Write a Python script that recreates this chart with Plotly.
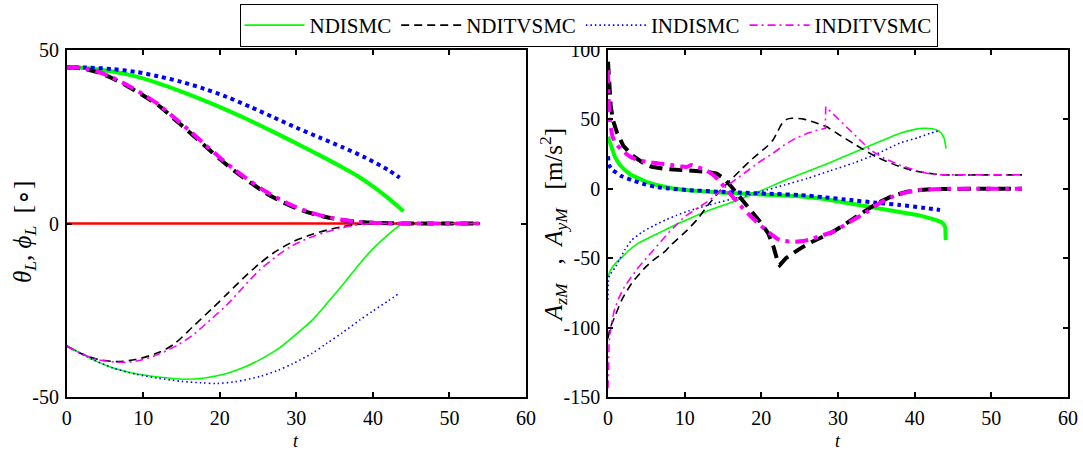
import plotly.graph_objects as go

# ---------------- data: left panel (theta_L thick, phi_L thin) ----------------
t_theta_nd = [0, 3, 6, 9, 12, 15, 18, 21, 24, 27, 30, 33, 36, 38, 40, 42, 44]
theta_nd = [45, 44.7, 43.8, 42.4, 40.4, 38.0, 35.4, 32.6, 29.6, 26.4, 23.1, 19.7, 16.2, 13.7, 10.7, 7.3, 3.5]

t_theta_ind = [0, 3, 6, 9, 12, 15, 18, 21, 24, 27, 30, 33, 36, 39, 42, 43.5]
theta_ind = [45, 44.9, 44.5, 43.7, 42.4, 40.8, 38.8, 36.4, 33.6, 30.6, 27.6, 24.8, 22.0, 19.0, 15.4, 13.2]

t_theta_tv = [0, 2, 4, 6, 8, 10, 12, 14, 16, 18, 20, 22, 24, 26, 28, 30, 32, 34, 36, 38, 40, 44, 48, 54]
theta_ndtv = [45, 44.7, 43.6, 41.8, 39.5, 36.9, 34.0, 30.2, 26.4, 22.5, 18.6, 15.0, 11.8, 8.8, 6.4, 4.4, 2.9, 1.8, 1.0, 0.5, 0.2, 0, 0, 0]
theta_indtv = [45, 44.8, 43.8, 42.0, 39.8, 37.2, 34.3, 30.6, 26.8, 22.9, 19.0, 15.4, 12.2, 9.2, 6.8, 4.7, 3.1, 1.9, 1.1, 0.5, 0.2, 0, 0, 0]

t_phi_ndtv = [0, 2, 4, 6.5, 9, 12, 14, 16.5, 19, 21, 23, 25, 27, 29.6, 32, 34, 36, 38, 40, 44, 48, 54]
phi_ndtv = [-35.3, -37.6, -39.1, -39.8, -39.2, -37.2, -34.8, -29.7, -24.5, -20.2, -15.9, -11.9, -8.5, -5.2, -3.2, -1.9, -0.9, -0.3, 0, 0, 0, 0]

t_phi_indtv = [0, 2, 4, 7, 9.5, 12.2, 14.5, 16.5, 19, 20.9, 23, 25.2, 27.5, 29.6, 32, 34, 36, 38, 40, 44, 48, 54]
phi_indtv = [-35.3, -37.6, -39.2, -40.0, -39.5, -37.5, -35.0, -32.1, -27.3, -23.5, -18.5, -13.4, -9.3, -6.2, -3.9, -2.4, -1.2, -0.4, 0, 0, 0, 0]

t_phi_nd = [0, 2, 3.5, 6, 9, 12.2, 15.2, 18, 20.9, 23, 25.2, 27.5, 29.6, 32, 34, 36, 38.3, 40, 42, 44]
phi_nd = [-35.3, -37.6, -39.3, -41.6, -43.3, -44.3, -44.9, -44.5, -43.2, -41.6, -39.3, -36.3, -32.6, -28.0, -23.0, -17.8, -11.5, -7.3, -3.2, 0.3]

t_phi_ind = [0, 2, 3.5, 6, 9, 12, 15, 17.5, 19.6, 22, 25.2, 27.5, 29.6, 32, 34, 36, 38.3, 40, 42, 43.3]
phi_ind = [-35.3, -37.6, -39.3, -41.6, -43.4, -44.6, -45.5, -45.9, -46.1, -45.6, -44.1, -42.4, -40.3, -37.5, -34.5, -31.5, -27.8, -25.2, -22.3, -20.3]

t_ref = [0, 54]
ref_zero = [0, 0]

# ---------------- data: right panel (A_zM thick, A_yM thin) ----------------
t_az_nd = [0, 0.4, 0.9, 1.5, 2.2, 3, 3.9, 5, 6.5, 8.3, 10.5, 12.7, 15, 18, 21, 25, 28, 31.6, 35, 38.1, 40.5, 42.5, 43.4, 43.8, 44.0, 44.05]
az_nd = [37.5, 30, 23, 17.5, 13.5, 10, 7.6, 5, 2.5, 0.4, -1, -2.1, -2.9, -3.5, -4, -5.3, -7.2, -10.5, -13.3, -16.5, -19, -22, -23.8, -25.5, -28, -37]

t_az_ind = [0, 0.15, 0.5, 0.9, 1.8, 3.1, 4.5, 6.1, 8, 10.4, 14.4, 18, 22, 25.1, 28, 31.6, 35, 38.1, 41, 43.3]
az_ind = [23.5, 17, 14, 12.3, 9, 6.3, 3.7, 1.5, 0.2, -0.9, -2.1, -2.9, -3.8, -4.5, -6, -8.1, -10, -11.7, -13.6, -15.3]

t_az_ndtv = [0, 0.15, 0.35, 0.65, 1.2, 2, 3.2, 4.5, 5.7, 7.5, 9.6, 12.7, 14.2, 15.2, 16.1, 17.4, 18.7, 19.8, 20.9, 21.6, 22.2, 22.4,
             23.2, 24.1, 25.1, 26.5, 27.7, 29, 30.5, 32, 33.8, 35.5, 37.2, 39, 40.7, 42.5, 44, 48, 54]
az_ndtv = [91.6, 75, 60, 49.5, 40, 31, 24, 19, 15.9, 14.3, 13.5, 12.3, 11, 7, 1.5, -7, -15.3, -23.5, -32.1, -42, -53.7, -55,
           -50, -46.3, -42.9, -38.5, -35.5, -32, -27, -21.3, -15, -9.3, -5, -2.1, -0.8, -0.2, 0, 0, 0]

t_az_indtv = [0, 0.05, 0.2, 0.6, 1.2, 1.8, 2.8, 3.9, 5.5, 7, 8.3, 9.6, 10.3, 10.9, 11.5, 12.7, 13.6, 14.4, 15.7, 17, 18.3, 19.6,
              21, 22.4, 24.1, 25.5, 26.8, 28, 29.4, 31.5, 33.8, 35.5, 37.2, 39, 40.7, 42.5, 44, 48, 54]
az_indtv = [85.5, 70, 52, 37.5, 31.5, 28, 23.5, 20.7, 19, 18, 17.1, 16, 15.8, 17.2, 16, 13.5, 10.5, 6.3, -2, -10.5, -18, -24.9,
            -31.5, -36.9, -38.1, -37.6, -35.7, -33.5, -30.9, -24, -16.5, -10, -5.5, -2.4, -0.9, -0.3, 0, 0, 0]

t_ay_nd = [0, 0.3, 0.7, 1.1, 1.6, 2.6, 4, 6, 8, 10, 13.3, 16.5, 19.5, 23, 26, 29, 32, 35, 38.1, 40, 41.2, 42.3, 43.2, 43.8, 44.1]
ay_nd = [-63.3, -59, -55.5, -53, -50.5, -45, -39, -33.5, -28, -23, -15.3, -9, -2.5, 6, 12.5, 19, 26, 33, 40, 42.8, 43.6, 43.3, 41.5, 37, 29]

t_ay_ind = [0, 0.05, 0.2, 0.5, 0.9, 1.5, 2.2, 3.1, 4.5, 6, 7.5, 9, 10.5, 12, 14, 16.4, 18, 20, 23, 26, 29, 32, 35, 38.1, 40.5, 42, 43.3]
ay_ind = [-80, -66, -62, -60, -57, -51, -44, -37, -31, -26.5, -22.5, -19, -16, -13.5, -10.5, -7, -5, -2, 2.7, 7.5, 13, 18.5, 25, 33, 37, 40, 42]

t_ay_ndtv = [0, 0.3, 0.9, 1.8, 3.1, 4.8, 6, 7.4, 8.3, 10.3, 11.8, 13, 14.2, 15.3, 17.2, 18.8, 20.7, 21.5, 22.1, 22.7, 23.3, 24,
             25.5, 27, 28.5, 30, 32, 35, 38.1, 40, 42.5, 44, 48, 54]
ay_ndtv = [-107.7, -100, -92, -80, -68, -57, -51, -45.3, -40, -30, -21, -12, -4, 2.5, 13, 21.5, 30.3, 35, 41, 47, 50, 50.8,
           50.2, 47.7, 44.7, 39.5, 32.7, 23, 15.9, 12.8, 10.7, 10, 10, 10]

t_ay_indtv = [0, 0.05, 0.15, 0.4, 0.8, 1.3, 2, 2.6, 3.9, 5, 6.1, 8, 10, 11.7, 13.3, 15, 16.4, 18, 19.8, 21.5, 23.1, 24.5, 26,
              27.3, 28.35, 28.4, 29.5, 30.7, 32.5, 34.2, 36, 38.1, 40, 41.6, 43, 44, 48, 54]
ay_indtv = [-143.7, -125, -110, -99, -88, -80, -72, -67, -57, -50, -43, -31, -20, -14, -8, 0, 5.5, 12, 19.5, 25.5, 32, 36.5, 40,
            42.3, 43.6, 59, 53, 47.2, 37, 28, 22, 17, 13.5, 11.2, 10.2, 10, 10, 10]

x_ticks = [0, 10, 20, 30, 40, 50, 60]
left_ticks = [-50, 0, 50]
right_ticks = [-150, -100, -50, 0, 50, 100]

names = ["NDISMC", "NDITVSMC", "INDISMC", "INDITVSMC"]
colors = ["#00ff00", "#000000", "#0000ff", "#ff00ff"]

FONT = "Liberation Serif"
W, H = 1083, 452

# dash patterns (thin, thick)
dash_thin = ["solid", "8px,5px", "1.5px,3px", "8px,4px,2px,4px"]
dash_thick = ["solid", "13px,7px", "4px,4px", "13px,6px,4px,6px"]

fig = go.Figure()

# zero reference line in the left panel
fig.add_trace(go.Scatter(x=t_ref, y=ref_zero, mode="lines", line=dict(color="#ff0000", width=2.6),
                         showlegend=False, xaxis="x", yaxis="y", hoverinfo="skip"))

left_thick = [(t_theta_nd, theta_nd), (t_theta_tv, theta_ndtv), (t_theta_ind, theta_ind), (t_theta_tv, theta_indtv)]
left_thin = [(t_phi_nd, phi_nd), (t_phi_ndtv, phi_ndtv), (t_phi_ind, phi_ind), (t_phi_indtv, phi_indtv)]
right_thick = [(t_az_nd, az_nd), (t_az_ndtv, az_ndtv), (t_az_ind, az_ind), (t_az_indtv, az_indtv)]
right_thin = [(t_ay_nd, ay_nd), (t_ay_ndtv, ay_ndtv), (t_ay_ind, ay_ind), (t_ay_indtv, ay_indtv)]

# curves with corners (cusp, spike, end drop) stay piecewise linear
right_thick_shape = ["linear", "linear", "spline", "spline"]
right_thin_shape = ["spline", "spline", "spline", "linear"]

for i in range(4):
    fig.add_trace(go.Scatter(x=left_thin[i][0], y=left_thin[i][1], mode="lines", name=names[i],
                             legendgroup=names[i], showlegend=True,
                             line=dict(color=colors[i], width=1.6, dash=dash_thin[i], shape="spline", smoothing=0.8),
                             xaxis="x", yaxis="y"))
    fig.add_trace(go.Scatter(x=left_thick[i][0], y=left_thick[i][1], mode="lines", name=names[i],
                             legendgroup=names[i], showlegend=False,
                             line=dict(color=colors[i], width=4, dash=dash_thick[i], shape="spline", smoothing=0.8),
                             xaxis="x", yaxis="y"))
    fig.add_trace(go.Scatter(x=right_thin[i][0], y=right_thin[i][1], mode="lines", name=names[i],
                             legendgroup=names[i], showlegend=False,
                             line=dict(color=colors[i], width=1.6, dash=dash_thin[i], shape=right_thin_shape[i],
                                       smoothing=0.6),
                             xaxis="x2", yaxis="y2"))
    fig.add_trace(go.Scatter(x=right_thick[i][0], y=right_thick[i][1], mode="lines", name=names[i],
                             legendgroup=names[i], showlegend=False,
                             line=dict(color=colors[i], width=4, dash=dash_thick[i], shape=right_thick_shape[i],
                                       smoothing=0.6),
                             xaxis="x2", yaxis="y2"))

# panel placement in pixels
lx0, lx1 = 66.7, 526
rx0, rx1 = 608, 1068
ytop, ybot = 50, 397

axis_common = dict(showline=True, linecolor="black", linewidth=1.6, mirror="ticks", ticks="inside",
                   ticklen=5, tickwidth=1.5, tickcolor="black", showgrid=False, zeroline=False,
                   tickfont=dict(family=FONT, size=20, color="black"), ticklabelstandoff=2)

fig.update_layout(
    width=W, height=H,
    margin=dict(l=0, r=0, t=0, b=0, autoexpand=False),
    paper_bgcolor="white", plot_bgcolor="white",
    font=dict(family=FONT, color="black"),
    xaxis=dict(domain=[lx0 / W, lx1 / W], range=[0, 60], tickvals=x_ticks,
               ticktext=[str(v) for v in x_ticks], anchor="y", **axis_common),
    yaxis=dict(domain=[1 - ybot / H, 1 - ytop / H], range=[-50, 50], tickvals=left_ticks,
               ticktext=[str(v) for v in left_ticks], anchor="x", **axis_common),
    xaxis2=dict(domain=[rx0 / W, rx1 / W], range=[0, 60], tickvals=x_ticks,
                ticktext=[str(v) for v in x_ticks], anchor="y2", **axis_common),
    yaxis2=dict(domain=[1 - ybot / H, 1 - ytop / H], range=[-150, 100], tickvals=right_ticks,
                ticktext=[str(v) for v in right_ticks], anchor="x2", **axis_common),
    legend=dict(orientation="h", x=588.5 / W, xanchor="center", y=1 - 4 / H, yanchor="top",
                bordercolor="black", borderwidth=1, bgcolor="white",
                font=dict(family=FONT, size=21, color="black"), itemwidth=60),
    showlegend=True,
)

fig.add_annotation(x=(lx0 + lx1) / 2 / W, y=0, xref="paper", yref="paper", text="<i>t</i>",
                   showarrow=False, font=dict(family=FONT, size=18, color="black"), xanchor="center",
                   yanchor="bottom", borderpad=0)
fig.add_annotation(x=(rx0 + rx1) / 2 / W, y=0, xref="paper", yref="paper", text="<i>t</i>",
                   showarrow=False, font=dict(family=FONT, size=18, color="black"), xanchor="center",
                   yanchor="bottom", borderpad=0)
fig.add_annotation(x=24 / W, y=1 - 232 / H, xref="paper", yref="paper",
                   text="<i>θ</i><sub><i>L</i></sub>, <i>ϕ</i><sub><i>L</i></sub>  [∘]",
                   showarrow=False, font=dict(family=FONT, size=25, color="black"), textangle=-90,
                   xanchor="center", yanchor="middle")
fig.add_annotation(x=553 / W, y=1 - 225 / H, xref="paper", yref="paper",
                   text="<i>A</i><sub><i>zM</i></sub>   ,  <i>A</i><sub><i>yM</i></sub>   [m/s<sup>2</sup>]",
                   showarrow=False, font=dict(family=FONT, size=25, color="black"), textangle=-90,
                   xanchor="center", yanchor="middle")

fig.write_html("out.html")
